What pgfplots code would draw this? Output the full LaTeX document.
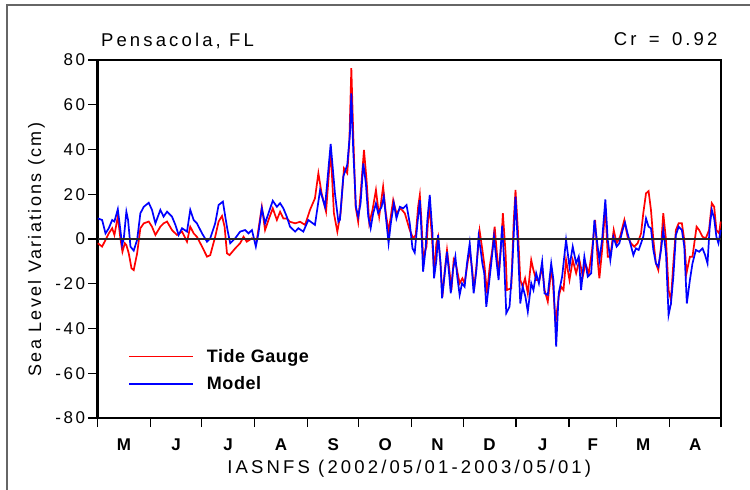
\documentclass[border=0pt]{standalone}
\usepackage{fontspec}
\setmainfont{Liberation Sans}[LetterSpace=15]
\newfontfamily\widefont{Liberation Sans}[LetterSpace=17]
\newfontfamily\ylabfont{Liberation Sans}[LetterSpace=13]
\newfontfamily\legfont{Liberation Sans}[LetterSpace=3]
\usepackage{pgfplots}
\pgfplotsset{compat=1.18}

\pgfplotstableread{
day val
0.2 -1.9
2.7 -3.4
4.7 -0.4
6.6 2.5
8.6 4.8
9.9 1.8
11.9 10
13.4 0.3
14.6 -5.7
16 -1.9
16.9 -2.7
18.3 -6.4
19.9 -13.1
21.2 -13.9
23.2 -6.4
25.1 4.8
27.1 7
30 7.8
31.9 5.5
33.9 1.8
36.8 5.5
38.7 7
40.7 7.8
43.6 4
46.5 1.8
49.5 3.3
52.4 -1.2
54.3 5.5
56.3 2.5
58.2 1
61.2 -3.4
64.1 -7.9
66 -7.2
68.9 1
70.9 7.8
72.9 10.3
74.4 5.5
75.8 -6.4
77.3 -7.2
80.6 -4.2
83.5 -1.9
85.5 1
87.4 -1.2
90.4 0.3
93.3 -0.4
96.2 14.4
98.1 4
100.1 8.5
102.6 13.7
105 8.5
106.9 12.2
108.8 9.2
110.8 9.2
112.7 7.7
115.7 7
118.6 7.7
121.5 6.3
124.4 13
127.3 18.2
129.3 29.4
131.2 20.4
133.8 12.2
136.5 40
138.4 11.5
140.4 3.3
142.3 11.5
144.3 31.6
146.2 29.4
147.4 42.8
148.6 76.3
149.7 47.2
151.1 14.4
152.6 7.7
154.2 21.9
156 39.8
157.5 26.4
159.1 7
161 13
163 21.9
164.9 10
167.2 23.4
168.8 11.5
170.4 3.3
173.1 17.4
175 11.5
177.4 13.7
179.9 11.5
182.8 4
184.8 0.3
186.3 1.8
187.7 14.4
188.7 19.7
189.6 8.5
190.6 -7.9
192.6 -3.4
194.1 16
195.5 4
197 -13.9
198.4 -1.9
199.4 1
200.8 -10.9
201.9 -25.8
203.3 -13.9
204.6 -4.9
206.2 -15.3
207.2 -22.8
208.5 -9.4
210.1 -12.4
212 -19.8
213.6 -17.6
214.9 -19.8
216.9 -9.4
217.9 -4.9
219.4 -13.9
220.4 -22.8
221.8 -12.4
223.7 3.6
225.3 -4.9
226.6 -12.4
228 -24.3
229.6 -12.4
231.1 -4.9
232.5 5.5
233.8 -6.4
235 -15.3
236.4 -1.9
237.3 11.5
238.9 -6.4
239.7 -22.8
242.2 -22
243.6 7
244.7 21.9
246.1 4
247.5 -18.3
248.9 -21.3
250.3 -17.6
251.9 -24.3
253.9 -9.4
255.2 -13.9
256.8 -18.3
258.7 -18.3
260.3 -12.4
261.7 -22.8
263.6 -28
265.6 -13.9
266.5 -18.3
268.1 -37.7
270 -25.8
271.4 -21.3
272.8 -22.8
274.3 -9.4
276.3 -18.3
278.2 -9.4
280.2 -15.3
282.1 -9.4
284.1 -16.8
285.6 -10.9
287.6 -15.3
289.5 -4.9
291.3 8.5
292.8 -9.4
293.8 -17.6
295.4 -4.9
297.3 14.4
298.7 -7.9
300.2 -7.9
302.2 4
303.9 -1.9
305.9 1
308.4 8.5
310.3 1
312.3 -1.9
314.2 -3.4
316.2 -1.9
318.2 2.5
319.5 11.5
321.1 20.4
322.6 21.4
324 13
325.4 -0.4
326.9 -10.9
328.3 -13.9
329.9 -3.4
331.2 11.5
332.8 -0.4
334.3 -22.8
335.7 -27.3
337.1 -10.9
338.6 4
340.2 7
342.1 7
343.5 -0.4
344.8 -15.3
346.8 -7.9
348.3 -7.9
350.7 5.5
352.2 4
354.2 1
356.1 0.3
358 4
359.6 16
361 14.4
362.3 4
363.9 2.5
364.8 7.8
}\tidegauge

\pgfplotstableread{
day val
0.2 9.2
2.7 8.5
4.7 2.5
6.6 4.8
8.6 8.5
9.9 7.8
11.9 13.3
13.4 4
14.4 -2.7
15.4 0.3
16.9 12.2
17.9 8.5
19.3 -3.4
21.2 -5.2
23.2 -0.4
25.1 11.5
27.1 14.4
30 16.2
31.9 13
33.9 7
36.8 13
38.7 10
40.7 12.2
43.6 10
45.6 6.3
47.5 1.8
49.5 4.8
52.4 3.3
54.3 13
56.3 8.5
58.2 7
61.2 2.5
64.1 -1.2
66 0.3
68.9 7
70.9 15.2
73.4 16.7
74.8 10
76.1 4
77.7 -1.9
80.6 0.3
83.5 3.3
86.4 4
88.4 2.5
90.4 4
92.7 -3.4
94.2 2.5
96.2 13.7
98.1 7
100.1 11.5
102.6 17.1
105 14.4
106.9 16
108.8 13.7
110.8 10
112.7 5.5
115.7 3.3
117.6 4.8
120.5 3.3
123.4 8.5
127.3 6.3
130.3 21.9
133.2 14.4
136.5 42.5
139 20.4
141 7.7
141.9 8.5
143.9 27.9
146.2 33.1
147.8 47.2
148.6 65.1
149.7 39.8
151.3 14.4
152.6 10
154 15.9
155.6 33.8
157.1 24.9
158.5 10
159.9 4.8
161.4 11.5
163 15.9
164.3 11.5
166.3 14.4
167.6 18.9
169.2 7
170.4 -1.9
171.7 7
173.5 15.9
175 9.2
177 14.4
178.9 13.7
180.9 15.2
182.8 7
184.4 -4.2
185.7 -6.1
187.3 7
188.7 17.4
189.6 4
190.6 -14.6
192 -4.9
193.1 8.5
194.5 19.7
196.1 2.5
197 -17.6
198.4 -9.4
199.4 1.8
200.8 -10.9
201.7 -26.5
203.3 -15.3
204.6 -5.7
205.8 -15.3
206.8 -24.3
208.1 -13.9
209.5 -7.9
210.6 -16.8
212 -25
213.4 -19.8
214.9 -21.3
216.3 -10.9
217.9 -1.9
219.2 -13.9
220.2 -24.3
221.8 -13.9
223.1 1
224.3 -4.9
225.3 -10.9
226.4 -15.3
227.6 -30.3
229 -21.3
230.5 -10.9
232.1 1
233.5 -9.4
234.8 -18.3
236.9 6
238.1 -10.9
239.3 -33.2
241.2 -30.3
242.8 -12.4
244.7 18.9
246.1 -3.4
247.5 -28.8
248.9 -21.3
250.5 -25.8
251.9 -32.5
253.9 -19.8
255.2 -22.8
256.8 -15.3
258.4 -19.8
260.3 -10.1
261.7 -24.3
263.6 -25
265.6 -10.9
266.9 -18.3
268.5 -48.1
270 -24.3
272 -16.8
274.3 -0.4
276.3 -12.4
278.2 -3.4
280.2 -10.9
281.7 -7.9
283.1 -22.8
285 -7.9
287 -16.8
289 -15.3
290.9 8.5
292.8 -3.4
293.8 -9.4
295.4 -0.4
297.3 17.7
298.7 -0.4
300.2 -9.4
302 1
303.9 -3.4
305.5 -1.9
307.4 4
308.8 7.3
310.3 2.5
311.9 -1.9
313.7 -7.2
315.2 -4.2
316.8 -4.9
318.2 -1.9
319.5 1
321.1 9.2
322.6 5.5
324 4.8
325.4 -4.9
326.9 -10.9
328.3 -12.4
329.9 -4.9
331.2 4
332.8 -6.4
334.3 -34
335.7 -28.8
337.1 -16.8
338.6 1.8
340.2 5.5
342.1 4
343.5 -3.4
345 -28.8
346.8 -18.3
348.3 -10.9
350.3 -4.9
352.2 -5.7
354.2 -4.2
355.7 -7.2
357.1 -10.9
358.4 5.5
359.6 13
361 9.2
362.3 1
363.5 -1.9
364.8 4
}\model

\begin{document}
\begin{tikzpicture}
\useasboundingbox (0pt,0pt) rectangle (750pt,490pt);
% frame of the original figure (only its left and top edges are visible)
\draw[black!60, line width=1.3pt] (7pt,0pt) -- (7pt,485pt) -- (750pt,485pt);
\begin{axis}[
    at={(97.5pt,72pt)}, anchor=south west,
    scale only axis,
    width=623.5pt, height=358pt,
    xmin=0, xmax=365,
    ymin=-80, ymax=80,
    axis line style={line width=2.6pt},
    tick align=outside,
    xtick pos=bottom, ytick pos=left,
    major tick length=9pt,
    every tick/.style={black, line width=1.1pt},
    xtick={0,31,61,92,123,153,184,214,245,276,304,335,365},
    xticklabels={M,J,J,A,S,O,N,D,J,F,M,A},
    x tick label as interval,
    ytick={-80,-60,...,80},
    /pgf/number format/assume math mode=true,
    yticklabel style={font=\fontsize{17}{17}\selectfont},
    xticklabel style={font=\fontsize{17}{17}\selectfont\bfseries, yshift=-8pt},
    xlabel={IASNFS (2002/05/01-2003/05/01)},
    xlabel style={font=\fontsize{18.5}{18.5}\selectfont\widefont, at={(axis description cs:0.5,0)}, anchor=base, yshift=-55pt},
    ylabel={Sea Level Variations (cm)},
    ylabel style={font=\fontsize{18}{18}\selectfont\ylabfont, at={(axis description cs:-0.0906,0.47)}, anchor=base},
    clip=false,
    legend style={draw=none, fill=none, inner sep=0pt,
        font=\fontsize{18}{18}\selectfont\legfont\bfseries,
        at={(axis description cs:0.049,0.193)}, anchor=north west,
        row sep=13pt,
        nodes={inner sep=0pt},
        /tikz/every odd column/.append style={column sep=13pt}},
    legend cell align=left,
    legend image code/.code={\draw[#1, line width=1.7pt] (0pt,0pt) -- (64pt,0pt);},
]
\addplot[red, line width=1.7pt] table[x=day, y=val] {\tidegauge};
\addlegendentry{Tide Gauge}
\addplot[blue, line width=1.7pt] table[x=day, y=val] {\model};
\addlegendentry{Model}
\addplot[forget plot, black!85, line width=1.2pt] coordinates {(0,0) (365,0)};
\node[anchor=base west, font=\fontsize{18.5}{18.5}\selectfont\widefont] at (rel axis cs:0,1) [yshift=13pt] {Pensacola, FL};
\node[anchor=base east, font=\fontsize{18.5}{18.5}\selectfont\widefont] at (rel axis cs:1,1) [yshift=14pt] {Cr\hspace{4pt} = \hspace{4pt}0.92};
\end{axis}
\end{tikzpicture}
\end{document}
